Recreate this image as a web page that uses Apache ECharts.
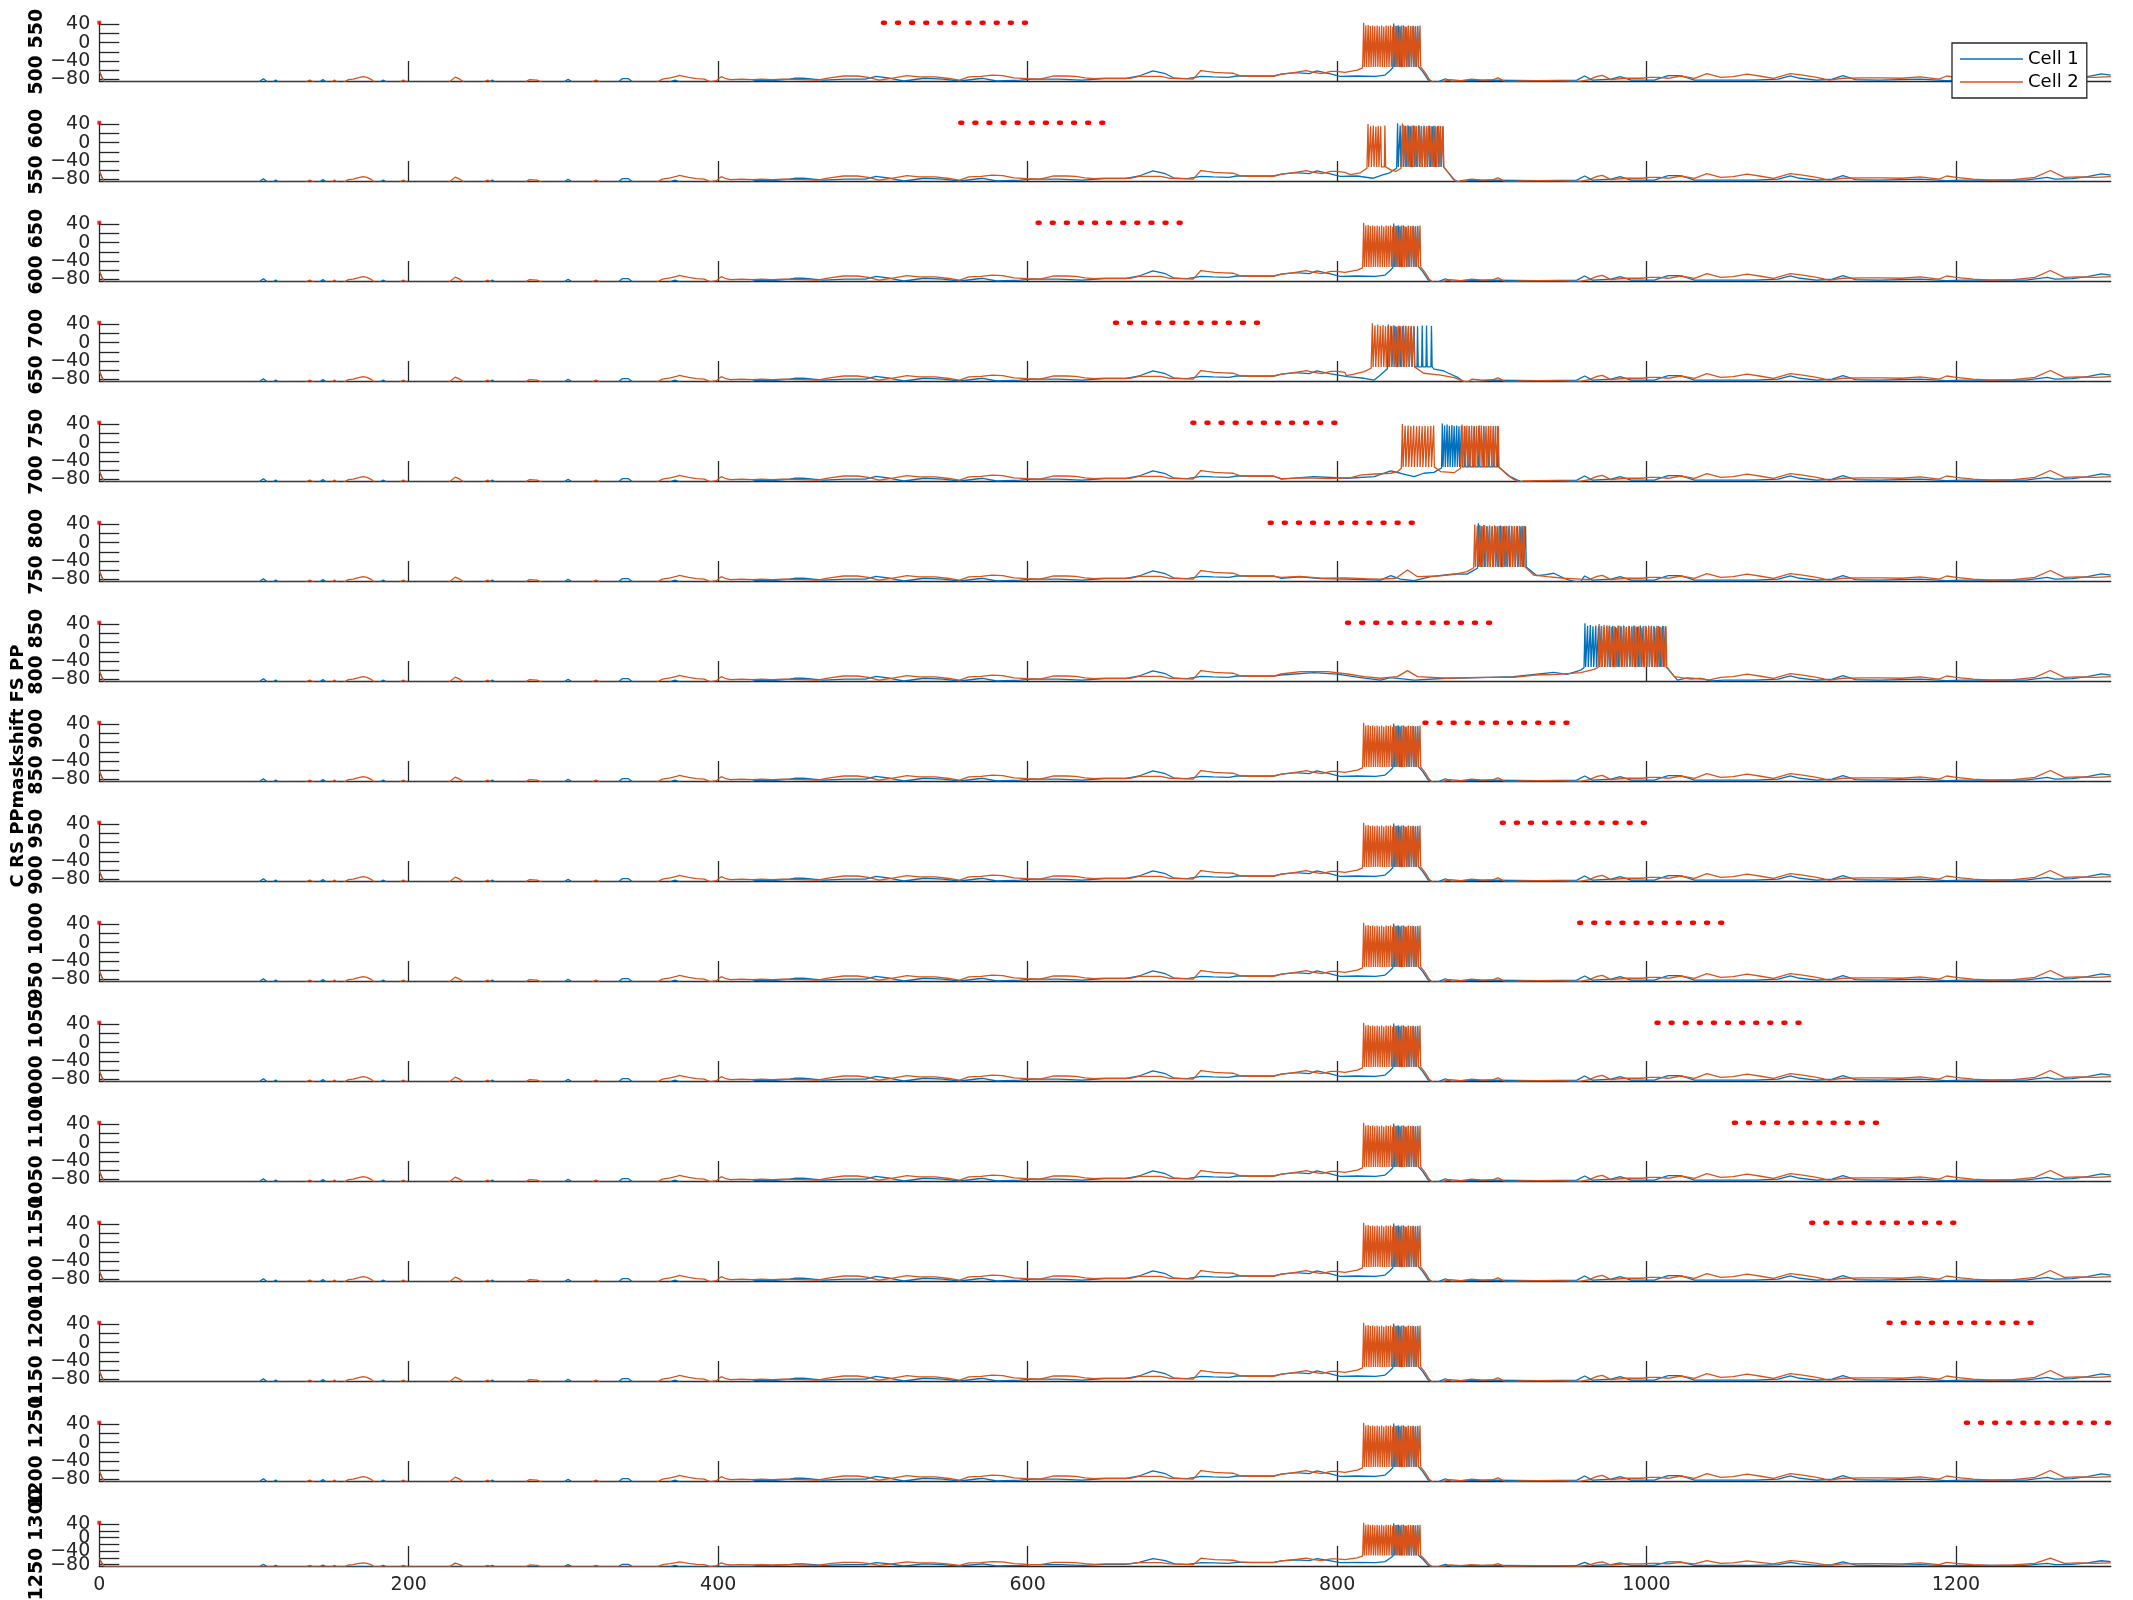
<!DOCTYPE html>
<html><head><meta charset="utf-8">
<script src="https://cdn.jsdelivr.net/npm/echarts@6/dist/echarts.min.js"></script>
<style>html,body{margin:0;padding:0;background:#fff}#c{width:2133px;height:1600px}</style>
</head><body><div id="c"></div>
<script>
// ---------- axes / ticks ----------
const X_MIN = 0, X_MAX = 1300, Y_MIN = -84, Y_MAX = 44;
const xTickValues = [200, 400, 600, 800, 1000, 1200];
const xLabelValues = [0, 200, 400, 600, 800, 1000, 1200];
const yTickValues = [-80, -60, -40, -20, 0, 20, 40];
const yLabelValues = [-80, -40, 0, 40];

// ---------- panel descriptors ----------
const panelLabels = ['500 550','550 600','600 650','650 700','700 750','750 800','800 850','850 900',
  '900 950','950 1000','1000 1050','1050 1100','1100 1150','1150 1200','1200 1250','1250 1300'];
const maskStart = [500,550,600,650,700,750,800,850,900,950,1000,1050,1100,1150,1200,null];
const maskEnd   = [600,650,700,750,800,850,900,950,1000,1050,1100,1150,1200,1250,1300,null];
const panelPattern = ['std','p2','std','p4','p5','p6','p7','std','std','std','std','std','std','std','std','std'];
const overallLabel = 'C RS PPmaskshift FS PP';
const seriesNames = ['Cell 1', 'Cell 2'];

// ---------- shared baseline traces [time, mV] ----------
const cell1Base = [[0,-62],[1.5,-74],[3.5,-87],
 [103,-87],[106,-79],[109,-87],[112,-87],[114,-82],[116,-87],
 [142,-87],[144.5,-81],[147,-87],[181,-87],[183.5,-82],[186,-87],
 [252,-87],[254,-82],[256,-87],[300,-87],[303,-80],[306,-87],
 [335,-87],[338,-79],[342,-79],[345,-87],[368,-87],[372,-82],[376,-87],
 [420,-87],[425,-82],[435,-83],[446,-80],
 [450,-78],[455,-78],[468,-82],[482,-80],[495,-80],[502,-74],[511,-78],[520,-84],[533,-78],[545,-80],
 [556,-84],[571,-78],[580,-84],[595,-82],[603,-80],[612,-80],[620,-80],[635,-82],[650,-79],[663,-79],
 [672,-73],[681,-62],[689,-68],[695,-78],[703,-79],[712,-74],[720,-75],[730,-76],[735,-73],[747,-73],
 [759,-73],[764,-69],[773,-65.5],[782,-68],[787,-62],[795,-68],[802,-74],[813,-73],
 [823,-76],[835,-80],[848,-84],[859,-87],
 [866,-85],[870,-79],[874,-85],[885,-83],[900,-82],[930,-83],[955,-82],[960,-73],[965,-82],[977,-80],
 [983,-74.5],[990,-82],[1005,-82],[1014,-72],[1022,-72],[1031,-82],[1050,-82],[1070,-82],[1085,-80],
 [1093,-73],[1099,-78],[1110,-82],[1120,-80],[1127,-72],[1135,-81],[1150,-82],[1177,-80],[1194,-83],
 [1204,-82],[1225,-82],[1245,-82],[1259,-76],[1264,-80],[1275,-79],[1285,-74.5],[1294,-68.5],[1300,-71]];

const cell2Base = [[0,-62],[1.5,-74],[3.5,-87],
 [133,-87],[136,-82],[139,-87],[150,-87],[152,-82],[154,-87],
 [158,-87],[161,-81],[164,-80],[167,-77],[170.5,-74.5],[173,-76],[176,-81],[178,-87],
 [194,-87],[196.5,-82],[199,-87],[226,-87],[230,-75.5],[233,-80],[236,-87],
 [248,-87],[251,-82],[254,-87],[275,-87],[278,-81],[283,-82],[286,-87],[318,-87],[321,-82],[324,-87],
 [360,-87],[364,-80],[369,-77],[373,-74],[375,-71.5],[378,-74],[381,-76],[386,-79],[391,-80],[395,-86],
 [399,-83],[402,-74.5],[405,-79],[408,-81],[415,-80],[422,-81],[428,-80],[435,-81],[442,-80],
 [455,-81],[464,-82],[472,-77],[481,-73],[490,-73],[497,-76],[504,-82],[512,-78],[522,-72],[530,-75],
 [540,-75],[548,-78],[556,-82],[562,-75],[570,-74],[577,-71],[584,-72],[591,-77],[600,-79],[608,-80],
 [617,-73],[625,-73],[631,-74],[637,-77],[643,-79],[650,-78],[660,-78],[666,-78],[672,-74],[680,-74],
 [686,-74],[692,-78],[700,-79],[707,-80],[712,-61],[716,-63],[721,-65],[727,-66],[733,-67],[737,-72],
 [744,-74],[750,-74],[759,-74],[764,-69],[771,-66],[780,-61],[785,-65],[790,-68],[796,-63],[800,-63],
 [805,-65],[813,-60],
 [820,-66],[832,-78],[845,-84],[858,-87],
 [866,-87],[873,-81],[880,-83],[887,-80],[894,-82],[901,-81],[904,-77],[909,-86],[920,-84],[935,-83],
 [948,-84],[955,-86],[963,-81],[968,-74],[971.5,-71.5],[977,-81],[986,-78],[997,-78],[1002,-76],
 [1008,-76],[1014,-78],[1022,-73],[1031,-78],[1039,-68],[1048,-76],[1056,-74.5],[1065,-69],[1073,-73],
 [1082,-78],[1093,-68],[1101,-71],[1110,-76],[1118,-82],[1127,-78],[1141,-77],[1152,-77],[1165,-78],
 [1177,-75],[1189,-80],[1194,-73],[1200,-76],[1211,-80],[1223,-82],[1237,-81],[1251,-76],[1261,-61],
 [1270,-76],[1279,-75],[1290,-76],[1300,-74.5]];

// ---------- burst episodes: envelope [t,mV] and spikes [t, peak mV] ----------
const spikeTrough = -53;

const std1Env = [[814,-72],[825,-74],[831,-71],[834,-62],[836,-55],[853,-55],[855.5,-64],[858.5,-80],[861,-87]];
const std1Spikes = [[836.6,42],[838.2,37],[839.8,38],[841.3,36],[842.9,38],[844.5,35],[846.0,37],[847.6,36],
 [849.2,37],[850.7,36],[852.2,36]];
const std2Env = [[814,-61],[816.5,-55],[854.5,-54],[857,-66],[859.5,-80],[862,-87]];
const std2Spikes = [[817.2,44],[818.6,38],[820.1,39],[821.5,37],[823.0,38],[824.4,36],[825.9,38],[827.3,36],
 [828.8,38],[830.2,35],[831.7,38],[833.1,37],[834.6,38],[836.0,35],[837.5,37],[838.9,38],[840.4,35],
 [841.8,38],[843.3,36],[844.7,35],[846.2,38],[847.6,36],[849.1,37],[850.5,35],[852.0,37],[853.6,38]];

const p2c1Env = [[814,-74],[823,-78],[829,-71],[834,-66],[836.5,-60],[838.5,-56],[869.4,-56],[872,-66],[876,-82],[879,-87]];
const p2c1Spikes = [[839.1,43],[840.8,38],[842.6,39],[844.2,37],[846.0,38],[847.6,36],[849.4,38],[851.1,37],
 [852.8,38],[854.5,36],[856.3,37],[858.0,36],[859.8,37],[861.5,36],[863.3,37],[865.0,36],[866.7,37],[868.4,35]];
const p2c2Env = [[808.6,-70],[815,-66],[819.3,-56],[831.8,-56],[835,-60],[838,-63],[841.3,-56],[869.4,-56],
 [872,-66],[875,-80],[878,-87]];
const p2c2Spikes = [[820.0,41],[821.7,36],[823.4,38],[825.1,35],[826.6,37],[828.2,36],[830.9,38],
 [842.2,42],[843.8,37],[845.3,38],[846.9,36],[848.4,38],[850.0,37],[851.5,36],[853.1,38],[854.6,36],
 [856.2,37],[857.7,35],[859.3,38],[860.8,36],[862.4,37],[863.9,35],[865.5,37],[867.0,36],[868.5,37]];

const p4c1Env = [[796,-71],[806.7,-74.5],[817.5,-78],[824,-82],[828,-71],[832.5,-57],[862.7,-58],[869,-62],
 [872,-67],[878,-76],[881,-84],[884,-87]];
const p4c1Spikes = [[833.2,40],[835.0,36],[836.9,38],[838.7,35],[840.6,37],[842.4,36],[844.3,37],[846.1,35],
 [848.0,36],[849.8,35],[852.0,36],[855.0,38],[857.8,38],[861.0,37]];
const p4c2Env = [[806,-72],[811,-69],[817.5,-63.5],[822,-56],[850.5,-56],[856,-67],[867,-71],[875.6,-76.7],
 [880,-82],[884,-87]];
const p4c2Spikes = [[822.8,43],[824.5,38],[826.3,40],[828.0,37],[829.7,39],[831.3,36],[833.0,38],[834.6,37],
 [836.3,38],[837.9,36],[839.6,37],[841.2,36],[842.9,38],[844.5,36],[846.2,37],[847.8,36],[849.6,37]];

const p5c1Env = [[764,-80],[785,-74.5],[806.7,-78],[824,-74.5],[834.7,-62],[841,-67],[849.8,-74.5],[856,-67],
 [862.7,-65],[866,-58],[867.5,-56],[905.5,-56],[912,-74.5],[916.6,-82],[920,-87]];
const p5c1Spikes = [[868.0,42],[869.5,38],[871.1,40],[872.6,37],[874.2,39],[875.7,37],[877.3,38],[878.8,36],
 [880.4,37],[882.6,36],[885.5,37],[888.7,36],[891.8,38],[894.9,36],[898.0,37],[901.1,36],[903.9,37]];
const p5c2Env = [[764,-79],[780,-77],[795,-79],[809,-76.7],[815,-71],[824,-68.6],[834.7,-67],[839,-63.5],
 [841.5,-56],[863.2,-57],[867,-63.5],[875.6,-65.7],[879.8,-56],[905.5,-55],[910,-71],[914,-80],[918,-87]];
const p5c2Spikes = [[842.2,41],[844.0,37],[845.9,38],[847.7,36],[849.5,38],[851.4,36],[853.2,37],[855.0,36],
 [856.9,37],[858.7,36],[860.6,37],[862.4,38],
 [880.8,40],[882.3,37],[883.9,38],[885.4,36],[887.0,38],[888.5,36],[890.1,37],[891.6,36],[893.2,38],
 [894.7,36],[896.3,37],[897.8,36],[899.4,37],[900.9,36],[902.5,37],[904.2,36]];

const p6c1Env = [[764,-78],[776,-75],[790,-79],[805,-80],[818,-81],[828,-82],[834.7,-72],[841,-80],[849.8,-83],
 [860.6,-74.5],[875.6,-68.6],[884,-69],[888.5,-60],[890.7,-56],[922.4,-57],[929,-72],[935,-70],[940,-67],
 [946.8,-78],[952,-84],[957,-87]];
const p6c1Spikes = [[891.3,43],[893.1,37],[894.9,39],[896.7,36],[898.5,38],[900.3,36],[902.1,37],[903.9,36],
 [905.7,38],[907.5,36],[909.3,37],[911.1,36],[912.9,37],[914.7,36],[916.5,37],[918.3,36],[920.1,37],[921.8,36]];
const p6c2Env = [[764,-76],[776,-74],[790,-78],[805,-77],[818,-79],[828,-80],[838,-78],[845.5,-60],[852,-74.5],
 [864.9,-73],[875.6,-69.4],[884,-63.5],[888.3,-55],[922,-56],[927,-70.8],[936,-74.5],[946.8,-78],[957.5,-80]];
const p6c2Spikes = [[889.0,40],[890.6,37],[892.2,39],[893.8,36],[895.4,38],[897.0,36],[898.6,37],[900.2,36],
 [901.8,38],[903.4,36],[905.0,37],[906.6,36],[908.2,37],[909.8,36],[911.4,38],[913.0,36],[914.6,37],
 [916.2,36],[917.8,37],[919.4,36],[921.0,37]];

const p7c1Env = [[763.6,-70.8],[785,-65.7],[800,-69],[814,-76],[828,-82],[834.7,-76.7],[849.8,-82],[871,-78],
 [893,-76.7],[914,-74.5],[940,-65],[948.6,-69.4],[957.5,-60],[959.6,-55],[1013,-56],[1020,-82],[1026.5,-77],
 [1037,-80],[1042,-84]];
const p7c1Spikes = [[960.2,43],[961.9,37],[963.7,39],[965.4,36],[967.2,38],[969.0,36],[970.8,37],[972.6,35],
 [974.4,38],[976.2,36],[978.0,37],[979.8,35],[981.6,37],[983.4,36],[985.2,38],[987.0,35],[988.8,37],
 [990.6,36],[992.4,37],[994.2,35],[996.0,38],[997.8,36],[999.6,37],[1001.4,35],[1003.2,37],[1005.0,36],
 [1006.8,37],[1008.6,35],[1010.4,37],[1012.2,36]];
const p7c2Env = [[763.6,-68.6],[776.5,-63.5],[794,-63.5],[806.7,-68.6],[817.5,-74.5],[828,-78],[839,-74.5],
 [845.5,-61.3],[852,-74.5],[871,-78],[893,-76],[914,-76],[928,-70.8],[942.5,-69.4],[957.5,-65.7],[966,-58.4],
 [968.7,-54],[1013.6,-56],[1018,-74.5],[1028.7,-80],[1035,-78],[1040,-82]];
const p7c2Spikes = [[969.4,41],[971.0,36],[972.6,39],[974.2,35],[975.8,38],[977.4,34],[979.0,37],[980.6,33],
 [982.2,38],[983.8,35],[985.4,36],[987.0,33],[988.6,37],[990.2,34],[991.8,38],[993.4,35],[995.0,36],
 [996.6,33],[998.2,37],[999.8,34],[1001.4,38],[1003.0,35],[1004.6,36],[1006.2,33],[1007.8,37],[1009.4,34],
 [1011.0,36],[1012.6,35]];

const episodes = {
  std: {c1: [std1Env, std1Spikes], c2: [std2Env, std2Spikes]},
  p2:  {c1: [p2c1Env, p2c1Spikes], c2: [p2c2Env, p2c2Spikes]},
  p4:  {c1: [p4c1Env, p4c1Spikes], c2: [p4c2Env, p4c2Spikes]},
  p5:  {c1: [p5c1Env, p5c1Spikes], c2: [p5c2Env, p5c2Spikes]},
  p6:  {c1: [p6c1Env, p6c1Spikes], c2: [p6c2Env, p6c2Spikes]},
  p7:  {c1: [p7c1Env, p7c1Spikes], c2: [p7c2Env, p7c2Spikes]}
};

// ---------- style ----------
const BLUE = '#0072BD', ORANGE = '#D95319', RED = '#FF0000', AXIS = '#262626';
const FONT = '"DejaVu Sans", "Liberation Sans", sans-serif';
const GRID_LEFT = 99.3, GRID_W = 2011.4, TOP0 = 22.7, STEP = 100, H = 58.3, H_LAST = 43.3;
const NP = panelLabels.length;

function compose(base, ep) {
  const env = ep[0], spikes = ep[1];
  const t0 = env[0][0], t1 = env[env.length - 1][0];
  const out = base.filter(p => p[0] < t0);
  const mid = env.map(p => [p[0], p[1]]);
  spikes.forEach(s => {
    mid.push([s[0] - 0.35, spikeTrough]);
    mid.push([s[0], s[1]]);
    mid.push([s[0] + 0.45, spikeTrough]);
  });
  mid.sort((a, b) => a[0] - b[0]);
  return out.concat(mid, base.filter(p => p[0] > t1));
}
const fmtY = v => v < 0 ? '\u2212' + Math.abs(v) : String(v);
const fmtX = v => String(v);
// labels split over two coincident axes so that none is dropped by overlap handling
const yLabelsA = yLabelValues.filter((v, k) => k % 2 === 0);
const yLabelsB = yLabelValues.filter((v, k) => k % 2 === 1);

const grids = [], xAxes = [], yAxes = [], yAxesB = [], series = [], graphics = [];
const yLabelStyle = {fontSize: 19, fontFamily: FONT, color: AXIS, margin: 9, formatter: fmtY,
  hideOverlap: false, showMinLabel: true, showMaxLabel: true};
for (let i = 0; i < NP; i++) {
  const top = TOP0 + STEP * i, h = (i === NP - 1) ? H_LAST : H;
  grids.push({left: GRID_LEFT, width: GRID_W, top: top, height: h});
  xAxes.push({
    type: 'value', gridIndex: i, min: X_MIN, max: X_MAX,
    axisLine: {show: true, onZero: false, lineStyle: {color: AXIS, width: 1.3}},
    axisTick: {show: true, inside: true, length: 20, customValues: xTickValues, lineStyle: {color: AXIS, width: 1.3}},
    axisLabel: {show: i === NP - 1, customValues: xLabelValues, formatter: fmtX, fontSize: 19, fontFamily: FONT,
      color: AXIS, margin: 10, hideOverlap: false, showMinLabel: true, showMaxLabel: true},
    splitLine: {show: false}
  });
  yAxes.push({
    type: 'value', gridIndex: i, min: Y_MIN, max: Y_MAX, position: 'left', offset: 0,
    axisLine: {show: true, onZero: false, lineStyle: {color: AXIS, width: 1.3}},
    axisTick: {show: true, inside: true, length: 20, customValues: yTickValues, lineStyle: {color: AXIS, width: 1.3}},
    axisLabel: Object.assign({show: true, customValues: yLabelsA}, yLabelStyle),
    splitLine: {show: false}
  });
  yAxesB.push({
    type: 'value', gridIndex: i, min: Y_MIN, max: Y_MAX, position: 'left', offset: 0,
    axisLine: {show: false, onZero: false}, axisTick: {show: false},
    axisLabel: Object.assign({show: true, customValues: yLabelsB}, yLabelStyle),
    splitLine: {show: false}
  });
  const ep = episodes[panelPattern[i]];
  series.push({type: 'line', name: seriesNames[0], xAxisIndex: i, yAxisIndex: i, data: compose(cell1Base, ep.c1),
    symbol: 'none', showSymbol: false, lineStyle: {color: BLUE, width: 1.3}, itemStyle: {color: BLUE},
    animation: false, silent: true, clip: true, z: 2});
  series.push({type: 'line', name: seriesNames[1], xAxisIndex: i, yAxisIndex: i, data: compose(cell2Base, ep.c2),
    symbol: 'none', showSymbol: false, lineStyle: {color: ORANGE, width: 1.3}, itemStyle: {color: ORANGE},
    animation: false, silent: true, clip: true, z: 3});
  if (maskStart[i] !== null) {
    series.push({type: 'line', xAxisIndex: i, yAxisIndex: i, data: [[maskStart[i], Y_MAX], [maskEnd[i], Y_MAX]],
      symbol: 'none', showSymbol: false,
      lineStyle: {color: RED, width: 4.5, type: [2, 12.1], dashOffset: 4.1, cap: 'round'},
      animation: false, silent: true, clip: false, z: 5});
  }
  series.push({type: 'scatter', xAxisIndex: i, yAxisIndex: i, data: [[X_MIN, Y_MAX]], symbol: 'rect', symbolSize: 4,
    itemStyle: {color: RED}, animation: false, silent: true, clip: false, z: 6});
  graphics.push({type: 'text', x: 37, y: top + h / 2, rotation: Math.PI / 2,
    style: {text: panelLabels[i], font: 'bold 19px ' + FONT, fill: '#000', align: 'center', verticalAlign: 'middle'}});
}
graphics.push({type: 'text', x: 18, y: 766, rotation: Math.PI / 2,
  style: {text: overallLabel, font: 'bold 18px ' + FONT, fill: '#000', align: 'center', verticalAlign: 'middle'}});

const chart = echarts.init(document.getElementById('c'), null, {renderer: 'canvas', width: 2133, height: 1600});
chart.setOption({
  backgroundColor: '#fff',
  animation: false,
  grid: grids, xAxis: xAxes, yAxis: yAxes.concat(yAxesB), series: series,
  legend: {
    data: seriesNames, left: 1952, top: 43, orient: 'vertical', selectedMode: false,
    padding: [6, 8, 6, 8], itemGap: 3, itemWidth: 63, itemHeight: 1.5, icon: 'rect',
    textStyle: {fontSize: 18, fontFamily: FONT, color: '#000', lineHeight: 20},
    backgroundColor: '#fff', borderColor: AXIS, borderWidth: 1.3, borderRadius: 0, z: 20
  },
  graphic: graphics
});
</script></body></html>
